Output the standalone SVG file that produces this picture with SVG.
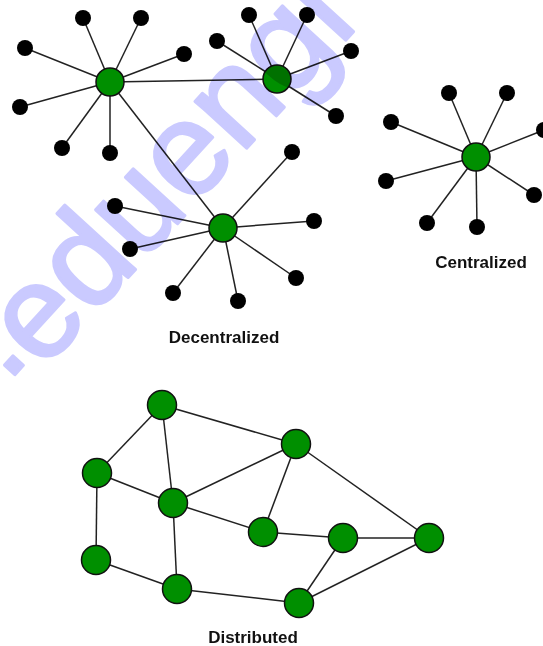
<svg xmlns="http://www.w3.org/2000/svg" width="543" height="646" viewBox="0 0 543 646">
<style>
.e{stroke:#222;stroke-width:1.5;fill:none}
.hub{fill:#008f00;stroke:#111;stroke-width:1.5}
.leaf{fill:#000}
.lbl{font-family:"Liberation Sans",Arial,sans-serif;font-weight:bold;font-size:17px;fill:#111;text-anchor:middle}
.wm{font-family:"Liberation Sans",Arial,sans-serif;font-size:132px;fill:#cacaff;stroke:#cacaff;stroke-width:3;stroke-linejoin:round;mix-blend-mode:multiply}
</style>
<rect width="543" height="646" fill="#fff"/>
<g id="connectors">
<line class="e" x1="110" y1="82" x2="83" y2="18"/>
<line class="e" x1="110" y1="82" x2="141" y2="18"/>
<line class="e" x1="110" y1="82" x2="25" y2="48"/>
<line class="e" x1="110" y1="82" x2="184" y2="54"/>
<line class="e" x1="110" y1="82" x2="20" y2="107"/>
<line class="e" x1="110" y1="82" x2="62" y2="148"/>
<line class="e" x1="110" y1="82" x2="110" y2="153"/>
<line class="e" x1="110" y1="82" x2="277" y2="79"/>
<line class="e" x1="110" y1="82" x2="223" y2="228"/>
<line class="e" x1="277" y1="79" x2="249" y2="15"/>
<line class="e" x1="277" y1="79" x2="307" y2="15"/>
<line class="e" x1="277" y1="79" x2="217" y2="41"/>
<line class="e" x1="277" y1="79" x2="351" y2="51"/>
<line class="e" x1="277" y1="79" x2="336" y2="116"/>
<line class="e" x1="223" y1="228" x2="292" y2="152"/>
<line class="e" x1="223" y1="228" x2="115" y2="206"/>
<line class="e" x1="223" y1="228" x2="314" y2="221"/>
<line class="e" x1="223" y1="228" x2="130" y2="249"/>
<line class="e" x1="223" y1="228" x2="296" y2="278"/>
<line class="e" x1="223" y1="228" x2="173" y2="293"/>
<line class="e" x1="223" y1="228" x2="238" y2="301"/>
<line class="e" x1="476" y1="157" x2="449" y2="93"/>
<line class="e" x1="476" y1="157" x2="507" y2="93"/>
<line class="e" x1="476" y1="157" x2="391" y2="122"/>
<line class="e" x1="476" y1="157" x2="544" y2="130"/>
<line class="e" x1="476" y1="157" x2="386" y2="181"/>
<line class="e" x1="476" y1="157" x2="534" y2="195"/>
<line class="e" x1="476" y1="157" x2="427" y2="223"/>
<line class="e" x1="476" y1="157" x2="477" y2="227"/>
<line class="e" x1="162" y1="405" x2="97" y2="473"/>
<line class="e" x1="162" y1="405" x2="173" y2="503"/>
<line class="e" x1="162" y1="405" x2="296" y2="444"/>
<line class="e" x1="97" y1="473" x2="173" y2="503"/>
<line class="e" x1="97" y1="473" x2="96" y2="560"/>
<line class="e" x1="173" y1="503" x2="296" y2="444"/>
<line class="e" x1="173" y1="503" x2="263" y2="532"/>
<line class="e" x1="173" y1="503" x2="177" y2="589"/>
<line class="e" x1="96" y1="560" x2="177" y2="589"/>
<line class="e" x1="177" y1="589" x2="299" y2="603"/>
<line class="e" x1="296" y1="444" x2="263" y2="532"/>
<line class="e" x1="296" y1="444" x2="429" y2="538"/>
<line class="e" x1="263" y1="532" x2="343" y2="538"/>
<line class="e" x1="343" y1="538" x2="429" y2="538"/>
<line class="e" x1="343" y1="538" x2="299" y2="603"/>
<line class="e" x1="299" y1="603" x2="429" y2="538"/>
</g>
<g id="hubA"><circle class="hub" cx="110" cy="82" r="14"/></g>
<g id="hubA-leaves">
<circle class="leaf" cx="83" cy="18" r="8"/><circle class="leaf" cx="141" cy="18" r="8"/>
<circle class="leaf" cx="25" cy="48" r="8"/><circle class="leaf" cx="184" cy="54" r="8"/>
<circle class="leaf" cx="20" cy="107" r="8"/><circle class="leaf" cx="62" cy="148" r="8"/>
<circle class="leaf" cx="110" cy="153" r="8"/>
</g>
<g id="hubB"><circle class="hub" cx="277" cy="79" r="14"/></g>
<g id="hubB-leaves">
<circle class="leaf" cx="249" cy="15" r="8"/><circle class="leaf" cx="307" cy="15" r="8"/>
<circle class="leaf" cx="217" cy="41" r="8"/><circle class="leaf" cx="351" cy="51" r="8"/>
<circle class="leaf" cx="336" cy="116" r="8"/>
</g>
<g id="hubC"><circle class="hub" cx="223" cy="228" r="14"/></g>
<g id="hubC-leaves">
<circle class="leaf" cx="292" cy="152" r="8"/><circle class="leaf" cx="115" cy="206" r="8"/>
<circle class="leaf" cx="314" cy="221" r="8"/><circle class="leaf" cx="130" cy="249" r="8"/>
<circle class="leaf" cx="296" cy="278" r="8"/><circle class="leaf" cx="173" cy="293" r="8"/>
<circle class="leaf" cx="238" cy="301" r="8"/>
</g>
<g id="hubD"><circle class="hub" cx="476" cy="157" r="14"/></g>
<g id="hubD-leaves">
<circle class="leaf" cx="449" cy="93" r="8"/><circle class="leaf" cx="507" cy="93" r="8"/>
<circle class="leaf" cx="391" cy="122" r="8"/><circle class="leaf" cx="544" cy="130" r="8"/>
<circle class="leaf" cx="386" cy="181" r="8"/><circle class="leaf" cx="534" cy="195" r="8"/>
<circle class="leaf" cx="427" cy="223" r="8"/><circle class="leaf" cx="477" cy="227" r="8"/>
</g>
<g id="n1"><circle class="hub" cx="162" cy="405" r="14.5"/></g>
<g id="n2"><circle class="hub" cx="97" cy="473" r="14.5"/></g>
<g id="n3"><circle class="hub" cx="173" cy="503" r="14.5"/></g>
<g id="n4"><circle class="hub" cx="296" cy="444" r="14.5"/></g>
<g id="n5"><circle class="hub" cx="263" cy="532" r="14.5"/></g>
<g id="n6"><circle class="hub" cx="96" cy="560" r="14.5"/></g>
<g id="n7"><circle class="hub" cx="177" cy="589" r="14.5"/></g>
<g id="n8"><circle class="hub" cx="299" cy="603" r="14.5"/></g>
<g id="n9"><circle class="hub" cx="343" cy="538" r="14.5"/></g>
<g id="n10"><circle class="hub" cx="429" cy="538" r="14.5"/></g>
<text class="lbl" x="224" y="343">Decentralized</text>
<text class="lbl" x="481" y="268">Centralized</text>
<text class="lbl" x="253" y="643">Distributed</text>
<text class="wm" transform="translate(16,400) rotate(-47.5)"><tspan dy="-18" dx="6">.</tspan><tspan dy="18" dx="-4">eduengi</tspan></text>
</svg>
